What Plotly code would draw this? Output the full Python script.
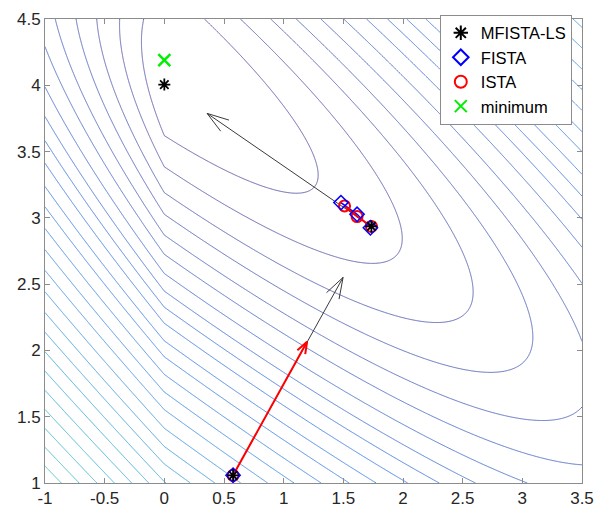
import numpy as np
import plotly.graph_objects as go

# ---------------------------------------------------------------
# LASSO-type objective  f(p) = 0.5 (p-c)^T H (p-c) + lam * ||p||_1
# ---------------------------------------------------------------
H = np.array([[1.2182, 1.4667], [1.4667, 2.1591]])
c = np.array([0.8264, 4.1004])
lam = 1.0

# heights at which successive level curves cross the axis x = 0
level_y = [3.620, 3.385, 3.190, 3.027, 2.870, 2.725, 2.580, 2.447, 2.326,
           2.205, 2.072, 1.952, 1.819, 1.686, 1.553, 1.413, 1.275, 1.143,
           1.010, 0.877, 0.744, 0.611, 0.478, 0.345, 0.212, 0.079]

# iterates of the three methods
mfista_x = [0.576, 1.735, 0.0]
mfista_y = [1.058, 2.935, 4.005]
fista_x = [0.576, 1.727, 1.615, 1.480]
fista_y = [1.058, 2.925, 3.027, 3.115]
ista_x = [0.576, 1.735, 1.615, 1.510]
ista_y = [1.058, 2.935, 3.010, 3.090]
minimum_x = [0.0]
minimum_y = [4.19]

# step arrows (tail -> head)
red_arrow_tail = [(0.576, 1.058)]
red_arrow_head = [(1.196, 2.065)]
black_arrow_tail = [(0.576, 1.058), (1.735, 2.935)]
black_arrow_head = [(1.498, 2.551), (0.358, 3.788)]

x_ticks = [-1, -0.5, 0, 0.5, 1, 1.5, 2, 2.5, 3, 3.5]
x_tick_text = ["-1", "-0.5", "0", "0.5", "1", "1.5", "2", "2.5", "3", "3.5"]
y_ticks = [1, 1.5, 2, 2.5, 3, 3.5, 4, 4.5]
y_tick_text = ["1", "1.5", "2", "2.5", "3", "3.5", "4", "4.5"]

X_RANGE = (-1.0, 3.5)
Y_RANGE = (1.0, 4.5)
W, HGT = 609, 518
MARGIN = dict(l=45, r=27, t=10, b=25)
FONT = "Liberation Sans"


def objective(x, y):
    dx = x - c[0]
    dy = y - c[1]
    quad = H[0, 0] * dx * dx + 2 * H[0, 1] * dx * dy + H[1, 1] * dy * dy
    return 0.5 * quad + lam * (np.abs(x) + np.abs(y))


# parula-like colour map
PARULA = [(0.0, (53, 42, 135)), (0.1, (15, 92, 221)), (0.2, (18, 125, 216)),
          (0.3, (7, 156, 207)), (0.4, (21, 177, 180)), (0.5, (89, 189, 140)),
          (0.6, (165, 190, 107)), (0.7, (225, 185, 82)), (0.8, (252, 206, 46)),
          (0.9, (250, 234, 22)), (1.0, (249, 251, 14))]


def parula(t, fade=0.25):
    t = float(np.clip(t, 0, 1))
    for (t0, c0), (t1, c1) in zip(PARULA[:-1], PARULA[1:]):
        if t <= t1:
            w = (t - t0) / (t1 - t0)
            rgb = [a + w * (b - a) for a, b in zip(c0, c1)]
            break
    else:
        rgb = list(PARULA[-1][1])
    # thin lines read lighter on screen
    return tuple(int(round(v + fade * (255 - v))) for v in rgb)


# level values of the drawn curves
levels = objective(0.0, np.array(level_y))
f_min = objective(0.0, minimum_y[0])
n_lev = len(levels)

# evaluate on a grid and re-express the surface in "level index" units,
# so that one contour trace with unit spacing draws every level
gx = np.linspace(X_RANGE[0], X_RANGE[1], 361)
gy = np.linspace(Y_RANGE[0], Y_RANGE[1], 281)
GX, GY = np.meshgrid(gx, gy)
F = objective(GX, GY)
knots_f = np.concatenate([[levels[0] - 5 * (levels[1] - levels[0])], levels,
                          [levels[-1] + 40 * (levels[-1] - levels[-2])]])
knots_z = np.concatenate([[-4.0], np.arange(1, n_lev + 1), [n_lev + 40.0]])
Z = np.round(np.interp(F, knots_f, knots_z), 4)

c_lo, c_hi = f_min, f_min + 42.0
colorscale = []
for k, lv in enumerate(levels):
    r, g, b = parula((lv - c_lo) / (c_hi - c_lo))
    colorscale.append([k / (n_lev - 1), f"rgb({r},{g},{b})"])

fig = go.Figure()
fig.add_trace(go.Contour(
    x=gx, y=gy, z=Z,
    zmin=1, zmax=n_lev, zauto=False,
    contours=dict(start=1, end=n_lev, size=1, coloring="lines"),
    colorscale=colorscale, showscale=False,
    line=dict(width=1, smoothing=0),
    hoverinfo="skip", showlegend=False,
))

# pixel scale, used to give the arrow heads a fixed on-screen size
plot_w = W - MARGIN["l"] - MARGIN["r"]
plot_h = HGT - MARGIN["t"] - MARGIN["b"]
sx = plot_w / (X_RANGE[1] - X_RANGE[0])
sy = plot_h / (Y_RANGE[1] - Y_RANGE[0])


def arrow_path(tails, heads, head_px, ang_deg):
    xs, ys = [], []
    a = np.deg2rad(ang_deg)
    for (x0, y0), (x1, y1) in zip(tails, heads):
        xs += [x0, x1, None]
        ys += [y0, y1, None]
        ux, uy = (x0 - x1) * sx, (y0 - y1) * sy
        n = np.hypot(ux, uy)
        ux, uy = ux / n, uy / n
        for s in (1, -1):
            bx = ux * np.cos(s * a) - uy * np.sin(s * a)
            by = ux * np.sin(s * a) + uy * np.cos(s * a)
            xs += [x1 + head_px * bx / sx, x1, None]
            ys += [y1 + head_px * by / sy, y1, None]
    return xs, ys


bx, by = arrow_path(black_arrow_tail, black_arrow_head, 23, 18)
fig.add_trace(go.Scatter(x=bx, y=by, mode="lines", line=dict(color="#3a3a3a", width=1),
                         hoverinfo="skip", showlegend=False))
rx, ry = arrow_path(red_arrow_tail, red_arrow_head, 13, 20)
fig.add_trace(go.Scatter(x=rx, y=ry, mode="lines", line=dict(color="#ff0000", width=2),
                         hoverinfo="skip", showlegend=False))

# short path segments between the late iterates
fig.add_trace(go.Scatter(x=fista_x[1:], y=fista_y[1:], mode="lines",
                         line=dict(color="#0000ff", width=1.5),
                         hoverinfo="skip", showlegend=False))
fig.add_trace(go.Scatter(x=ista_x[1:], y=ista_y[1:], mode="lines",
                         line=dict(color="#ff0000", width=2),
                         hoverinfo="skip", showlegend=False))

fig.add_trace(go.Scatter(x=ista_x, y=ista_y, mode="markers", name="ISTA", legendrank=3,
                         marker=dict(symbol="circle-open", size=11, color="#ff0000",
                                     line=dict(width=2, color="#ff0000"))))
fig.add_trace(go.Scatter(x=fista_x, y=fista_y, mode="markers", name="FISTA", legendrank=2,
                         marker=dict(symbol="diamond-open", size=11, color="#0000ff",
                                     line=dict(width=1.5, color="#0000ff"))))
fig.add_trace(go.Scatter(x=mfista_x, y=mfista_y, mode="markers", name="MFISTA-LS", legendrank=1,
                         marker=dict(symbol="asterisk-open", size=10, color="#000000",
                                     line=dict(width=1.8, color="#000000"))))
fig.add_trace(go.Scatter(x=minimum_x, y=minimum_y, mode="markers", name="minimum", legendrank=4,
                         marker=dict(symbol="x-thin-open", size=12, color="#00ee00",
                                     line=dict(width=2.5, color="#00ee00"))))

axis_common = dict(showgrid=False, zeroline=False, showline=True, mirror="ticks",
                   linecolor="#8c8c8c", linewidth=1, ticks="inside", ticklen=5,
                   tickcolor="#8c8c8c",
                   tickfont=dict(family=FONT, size=17, color="#262626"))
fig.update_xaxes(range=list(X_RANGE), tickmode="array", tickvals=x_ticks,
                 ticktext=x_tick_text, **axis_common)
fig.update_yaxes(range=list(Y_RANGE), tickmode="array", tickvals=y_ticks,
                 ticktext=y_tick_text, **axis_common)

fig.update_layout(
    width=W, height=HGT, margin=MARGIN,
    plot_bgcolor="white", paper_bgcolor="white",
    legend=dict(x=0.981, y=1.0095, xanchor="right", yanchor="top",
                bgcolor="white", bordercolor="#8c8c8c", borderwidth=1,
                font=dict(family=FONT, size=16.5, color="#000000"),
                traceorder="normal", itemsizing="constant", tracegroupgap=0),
)

fig.write_html("out.html")
